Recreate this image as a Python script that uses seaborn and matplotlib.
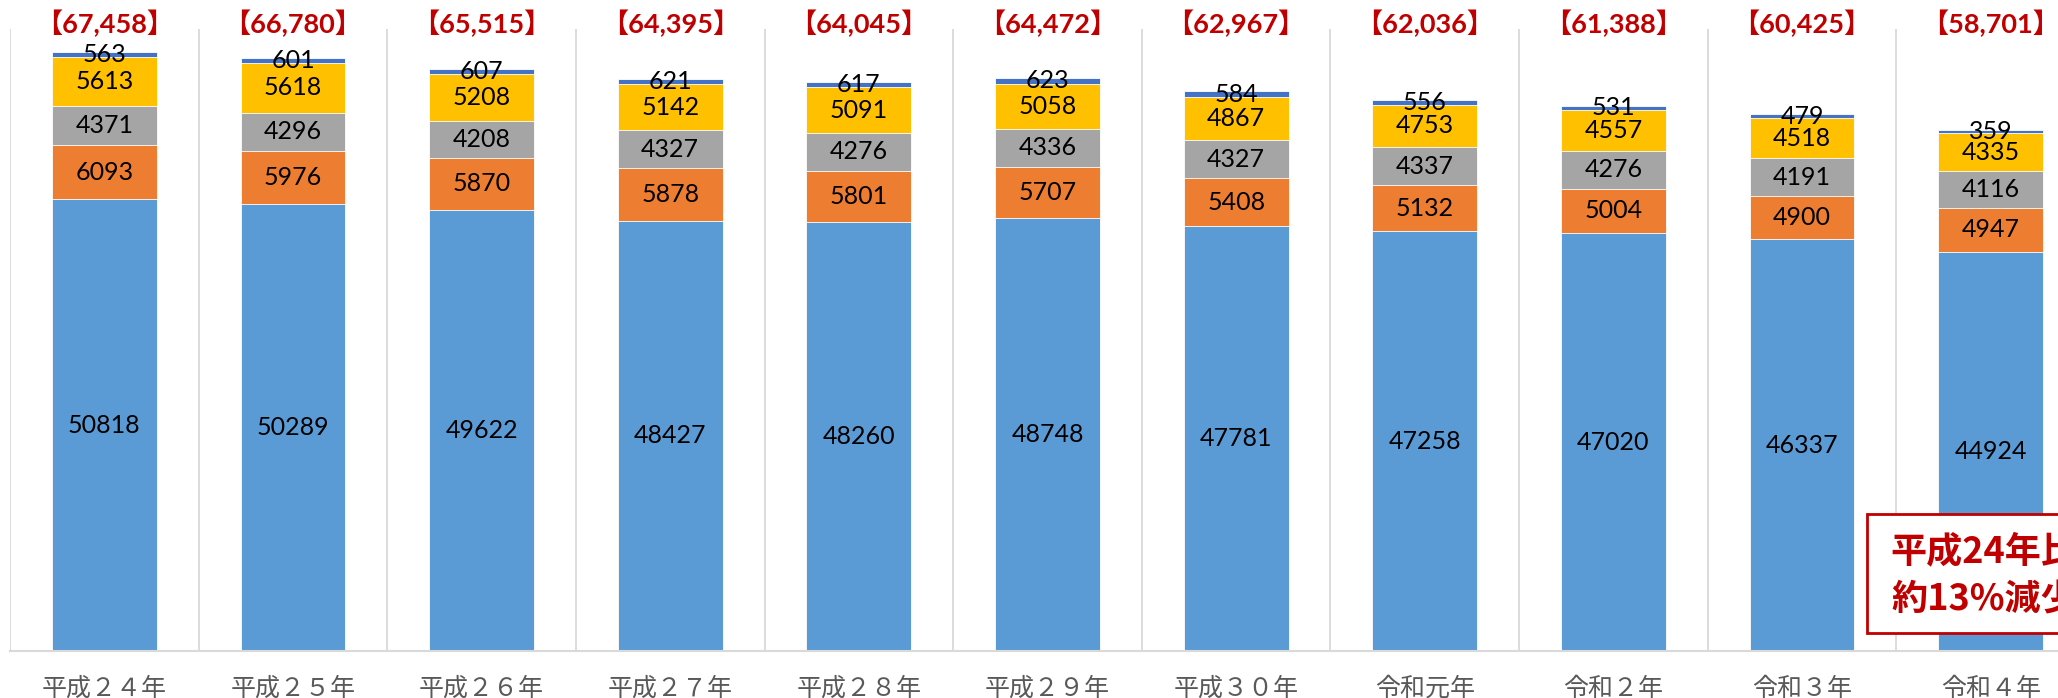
import seaborn as sns
import pandas as pd
import numpy as np
import matplotlib.pyplot as plt
from matplotlib.patches import Rectangle

# data (bottom series first)
years = ['平成２４年', '平成２５年', '平成２６年', '平成２７年', '平成２８年', '平成２９年',
         '平成３０年', '令和元年', '令和２年', '令和３年', '令和４年']
s_blue = [50818, 50289, 49622, 48427, 48260, 48748, 47781, 47258, 47020, 46337, 44924]
s_orange = [6093, 5976, 5870, 5878, 5801, 5707, 5408, 5132, 5004, 4900, 4947]
s_gray = [4371, 4296, 4208, 4327, 4276, 4336, 4327, 4337, 4276, 4191, 4116]
s_yellow = [5613, 5618, 5208, 5142, 5091, 5058, 4867, 4753, 4557, 4518, 4335]
s_top = [563, 601, 607, 621, 617, 623, 584, 556, 531, 479, 359]
totals = [67458, 66780, 65515, 64395, 64045, 64472, 62967, 62036, 61388, 60425, 58701]

series = [s_blue, s_orange, s_gray, s_yellow, s_top]
colors = ['#5B9BD5', '#ED7D31', '#A5A5A5', '#FFC000', '#4472C4']

sns.set_style('white')
plt.rcParams['font.family'] = ['Lato', 'Noto Sans CJK JP', 'DejaVu Sans']

df = pd.DataFrame(np.array(series).T, index=years)
cum = df.cumsum(axis=1)

fig = plt.figure(figsize=(20.58, 6.98), dpi=100)
ax = fig.add_axes([10 / 2058, 47 / 698, 2075 / 2058, 622 / 698])

# stacked bars: draw cumulative sums from the top layer down
for k in range(len(series) - 1, -1, -1):
    sns.barplot(x=years, y=cum[k].values, color=colors[k], width=0.556,
                saturation=1, ax=ax, edgecolor='white', linewidth=0.6)

# segment labels
for k in range(len(series)):
    bottoms = cum[k].values - df[k].values
    for i, v in enumerate(df[k].values):
        ax.text(i, bottoms[i] + v / 2, str(v), ha='center', va='center',
                fontsize=18, color='black', family='Lato')

# totals above the plot area
for i, t in enumerate(totals):
    ax.text(i, 1.009, '【{:,}】'.format(t), transform=ax.get_xaxis_transform(),
            ha='center', va='center', fontsize=19.5, fontweight='bold',
            color='#C00000', clip_on=False)

ax.set_xlim(-0.5, len(years) - 0.5)
ax.set_ylim(0, 70000)
ax.set_yticks([])
ax.set_xticks(range(len(years)))
ax.set_xticklabels(years, family='Noto Sans CJK JP', fontsize=18, color='#595959')
ax.tick_params(axis='x', length=0, pad=18)
ax.set_xlabel('')
ax.set_ylabel('')

# category separators
ax.set_xticks(np.arange(-0.5, len(years), 1), minor=True)
ax.grid(False)
ax.grid(axis='x', which='minor', color='#D9D9D9', linewidth=1.3)
ax.set_axisbelow(True)
for side in ['top', 'right', 'left']:
    ax.spines[side].set_visible(False)
ax.spines['bottom'].set_color('#D9D9D9')
ax.spines['bottom'].set_linewidth(1.5)

# annotation box (cut off by the figure edge, as in the source)
fig.patches.append(Rectangle((1867 / 2058, (698 - 633) / 698), 250 / 2058, 119 / 698,
                             transform=fig.transFigure, facecolor='white',
                             edgecolor='#C00000', linewidth=2, zorder=5))
fig.text(1984 / 2058, 1 - 552 / 698, '平成24年比', ha='center', va='center',
         fontsize=26, fontweight='bold', color='#C00000',
         family='Noto Sans CJK JP', zorder=6)
fig.text(1984 / 2058, 1 - 600 / 698, '約13%減少', ha='center', va='center',
         fontsize=26, fontweight='bold', color='#C00000',
         family='Noto Sans CJK JP', zorder=6)

fig.savefig('out.png', dpi=100)
